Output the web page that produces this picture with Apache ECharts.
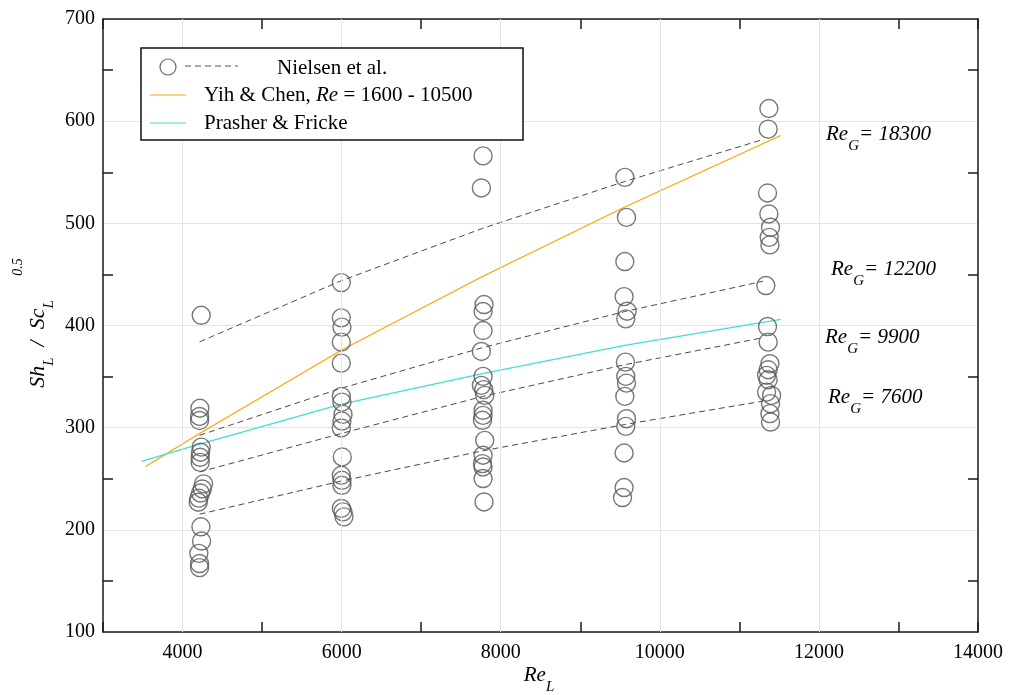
<!DOCTYPE html>
<html><head><meta charset="utf-8">
<script src="https://cdn.jsdelivr.net/npm/echarts@6/dist/echarts.min.js"></script>
<style>html,body{margin:0;padding:0;background:#fff}#c{width:1011px;height:695px}</style>
</head><body><div id="c"></div>
<script>
// ---------- data ----------
const xLabelValues = [4000, 6000, 8000, 10000, 12000, 14000];
const xGridValues = [4000, 6000, 8000, 10000, 12000];

const nielsenGroup1 = [[4235,410],[4218,319],[4214,311],[4214,307],[4235,281],[4226,276],[4222,271],[4222,266],
  [4264,245],[4248,240],[4226,236],[4205,231],[4197,227],[4231,203],[4239,189],[4205,177],[4214,167],[4214,163]];
const nielsenGroup2 = [[5996,442],[5996,407.5],[6004,398.4],[5996,383.7],[5996,363.2],[5996,330.6],[6004,325],
  [6017,313],[6004,306.5],[5996,299.7],[6008,271.3],[5996,253.4],[6004,248.5],[6004,243.6],[5996,220.9],[6017,217.6],[6029,212.7]];
const nielsenGroup3 = [[7778,566],[7757,534.6],[7790,420.5],[7778,413.7],[7778,395.1],[7757,374.6],[7778,350.2],
  [7757,341.4],[7786,337.2],[7799,331.6],[7778,317],[7778,312],[7770,307.2],[7799,287.6],[7778,273],[7770,264.8],
  [7778,261.5],[7778,250.2],[7790,227.3]];
const nielsenGroup4 = [[9560,545],[9581,505.8],[9560,462.6],[9551,428.3],[9589,414],[9572,406.5],[9568,364.2],
  [9572,350.2],[9581,343.6],[9560,330.6],[9581,308.8],[9572,301.3],[9551,275.2],[9551,241.4],[9531,231.6]];
const nielsenGroup5 = [[11371,612.4],[11362,592.2],[11354,529.7],[11371,509.2],[11392,496.1],[11375,486.3],
  [11384,478.9],[11333,439.1],[11354,399],[11362,383.7],[11384,362.6],[11362,356.7],[11342,351.2],[11362,346.9],
  [11342,334.8],[11405,331.6],[11392,323.5],[11384,313.7],[11392,305.5]];

const reG18300 = [[4214,384],[6000,444],[7770,495],[9560,541],[11296,582]];
const reG12200 = [[4214,292.5],[6000,338.7],[7770,378.3],[9560,413.7],[11296,443.3]];
const reG9900  = [[4214,256.6],[6000,294.4],[7770,330.5],[9560,361.6],[11296,388]];
const reG7600  = [[4214,215.3],[6000,247.8],[7770,277.3],[9560,303.1],[11296,326]];

const yihChen = [[3535,262],[4230,295],[6000,376],[7770,448],[9560,516],[11520,586]];
const prasherFricke = [[3484,267],[4214,284],[6000,323],[7770,353],[9560,380.5],[11520,406]];

const annotationLabels = ['18300', '12200', '9900', '7600'];

// ---------- chart ----------
const FONT = 'Liberation Serif';
const AX = '#1a1a1a';
const GRID = '#e4e4e4';
const chart = echarts.init(document.getElementById('c'), null, {renderer: 'canvas'});

const dashStyle = {color: '#4a4a4a', width: 1, type: [6, 4]};
function dashSeries(name, data) {
  return {name, type: 'line', data, symbol: 'none', lineStyle: dashStyle, z: 3, silent: true};
}

const annoRich = {
  m: {fontFamily: FONT, fontStyle: 'italic', fontSize: 21, lineHeight: 40, verticalAlign: 'middle', color: '#000'},
  s: {fontFamily: FONT, fontStyle: 'italic', fontSize: 15, lineHeight: 20, verticalAlign: 'bottom', color: '#000'}
};
const annoPos = [[826, 134], [831, 269], [825, 337], [828, 397]];

const graphics = [];
annotationLabels.forEach((lab, i) => {
  graphics.push({type: 'text', x: annoPos[i][0], y: annoPos[i][1], z: 100,
    style: {text: '{m|Re}{s|G}{m|= ' + lab + '}', rich: annoRich, align: 'left', verticalAlign: 'middle'}});
});
// x axis title
graphics.push({type: 'text', x: 539, y: 675, z: 100,
  style: {text: '{m|Re}{s|L}', rich: annoRich, align: 'center', verticalAlign: 'middle'}});
// y axis title (rotated)
graphics.push({type: 'text', x: 38, y: 344, rotation: Math.PI / 2, z: 100,
  style: {
    text: '{m|Sh}{s|L}{m|  /  Sc}{s|L}', align: 'center', verticalAlign: 'middle',
    rich: {
      m: {fontFamily: FONT, fontStyle: 'italic', fontSize: 22, lineHeight: 38, verticalAlign: 'middle', color: '#000'},
      s: {fontFamily: FONT, fontStyle: 'italic', fontSize: 15, lineHeight: 18, verticalAlign: 'bottom', color: '#000'}
    }
  }});
graphics.push({type: 'text', x: 18, y: 267, rotation: Math.PI / 2, z: 100,
  style: {text: '0.5', fontFamily: FONT, fontStyle: 'italic', fontSize: 14, fill: '#000',
    align: 'center', verticalAlign: 'middle'}});
// legend box
graphics.push({type: 'rect', shape: {x: 141, y: 48, width: 382, height: 92}, z: 90,
  style: {fill: '#fff', stroke: '#111', lineWidth: 1.5}});
graphics.push({type: 'circle', shape: {cx: 168, cy: 67, r: 8}, z: 91,
  style: {fill: 'none', stroke: '#666', lineWidth: 1.2}});
graphics.push({type: 'line', shape: {x1: 185, y1: 66, x2: 238, y2: 66}, z: 91,
  style: {stroke: '#555', lineWidth: 1, lineDash: [6, 4]}});
graphics.push({type: 'text', x: 277, y: 68, z: 91,
  style: {text: 'Nielsen et al.', fontFamily: FONT, fontSize: 21, fill: '#000', align: 'left', verticalAlign: 'middle'}});
graphics.push({type: 'line', shape: {x1: 150, y1: 95, x2: 186, y2: 95}, z: 91,
  style: {stroke: '#FFA500', lineWidth: 1.2}});
graphics.push({type: 'text', x: 204, y: 95, z: 91,
  style: {text: '{n|Yih & Chen, }{i|Re}{n| = 1600 - 10500}', align: 'left', verticalAlign: 'middle',
    rich: {n: {fontFamily: FONT, fontSize: 21, color: '#000'}, i: {fontFamily: FONT, fontSize: 21, fontStyle: 'italic', color: '#000'}}}});
graphics.push({type: 'line', shape: {x1: 150, y1: 123, x2: 186, y2: 123}, z: 91,
  style: {stroke: '#40E0D0', lineWidth: 1.2}});
graphics.push({type: 'text', x: 204, y: 123, z: 91,
  style: {text: 'Prasher & Fricke', fontFamily: FONT, fontSize: 21, fill: '#000', align: 'left', verticalAlign: 'middle'}});

const tickAxisCommon = {
  type: 'value', min: 3000, max: 14000, interval: 2000,
  axisLabel: {show: false}, splitLine: {show: false},
  axisTick: {show: true, inside: true, length: 10, lineStyle: {color: AX, width: 1.5}}
};

const option = {
  animation: false,
  backgroundColor: '#fff',
  grid: {left: 103, top: 19, right: 33, bottom: 63, containLabel: false},
  xAxis: [
    {type: 'value', min: 3000, max: 14000, interval: 1000, position: 'bottom',
      axisLine: {show: true, lineStyle: {color: AX, width: 1.5}},
      axisTick: {show: false}, splitLine: {show: false},
      axisLabel: {fontFamily: FONT, fontSize: 20, color: '#000', margin: 11,
        formatter: v => xLabelValues.includes(v) ? String(v) : ''}},
    Object.assign({}, tickAxisCommon, {position: 'bottom', axisLine: {show: false}}),
    Object.assign({}, tickAxisCommon, {position: 'top', axisLine: {show: true, lineStyle: {color: AX, width: 1.5}}})
  ],
  yAxis: [
    {type: 'value', min: 100, max: 700, interval: 100, position: 'left',
      axisLine: {show: true, lineStyle: {color: AX, width: 1.5}},
      axisTick: {show: false, inside: true},
      minorTick: {show: true, splitNumber: 2, length: 10, lineStyle: {color: AX, width: 1.5}},
      splitLine: {show: true, lineStyle: {color: GRID, width: 1}},
      axisLabel: {fontFamily: FONT, fontSize: 20, color: '#000', margin: 8}},
    {type: 'value', min: 100, max: 700, interval: 100, position: 'right',
      axisLine: {show: true, lineStyle: {color: AX, width: 1.5}},
      axisTick: {show: false, inside: true},
      minorTick: {show: true, splitNumber: 2, length: 10, lineStyle: {color: AX, width: 1.5}},
      splitLine: {show: false}, axisLabel: {show: false}}
  ],
  series: [
    {name: 'grid', type: 'line', data: [], z: 1, silent: true,
      markLine: {silent: true, symbol: ['none', 'none'], label: {show: false}, animation: false,
        lineStyle: {color: GRID, type: 'solid', width: 1},
        data: xGridValues.map(v => ({xAxis: v}))}},
    {name: 'Nielsen et al.', type: 'scatter', symbol: 'circle', symbolSize: 18, z: 4,
      data: [].concat(nielsenGroup1, nielsenGroup2, nielsenGroup3, nielsenGroup4, nielsenGroup5),
      itemStyle: {color: 'rgba(0,0,0,0)', borderColor: '#555', borderWidth: 1.4}},
    dashSeries('ReG 18300', reG18300),
    dashSeries('ReG 12200', reG12200),
    dashSeries('ReG 9900', reG9900),
    dashSeries('ReG 7600', reG7600),
    {name: 'Yih & Chen', type: 'line', data: yihChen, symbol: 'none', z: 3, silent: true,
      lineStyle: {color: '#FFA500', width: 1.3}},
    {name: 'Prasher & Fricke', type: 'line', data: prasherFricke, symbol: 'none', z: 3, silent: true,
      lineStyle: {color: '#40E0D0', width: 1.3}}
  ],
  graphic: graphics
};
chart.setOption(option);
</script>
</body></html>
